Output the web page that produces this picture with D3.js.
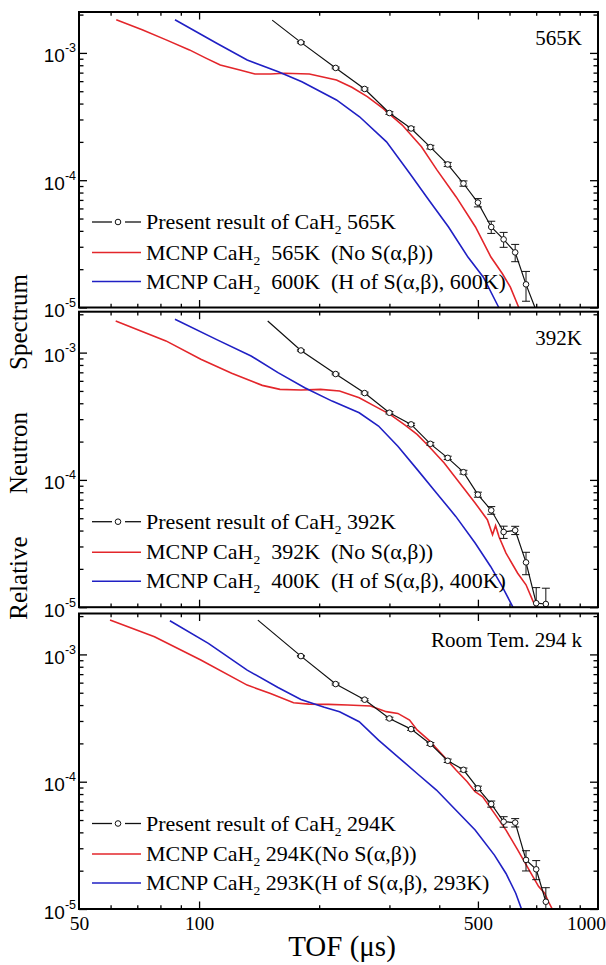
<!DOCTYPE html>
<html>
<head>
<meta charset="utf-8">
<script src="https://cdn.jsdelivr.net/npm/d3@7"></script>
<style>
    body { margin: 0; background: #fff; }
    text { white-space: pre; }
</style>
</head>
<body>
<div id="chart"></div>
<script>

// ---- data ----
const xMajorTicks = [100, 500];
const xMinorTicks = [60, 70, 80, 90, 200, 300, 400, 600, 700, 800, 900];
const xTickLabels = [50, 100, 500, 1000];
const yDecadeTicks = [1e-5, 1e-4, 1e-3];
const yMinorTicks = [2e-5, 3e-5, 4e-5, 5e-5, 6e-5, 7e-5, 8e-5, 9e-5,
                     2e-4, 3e-4, 4e-4, 5e-4, 6e-4, 7e-4, 8e-4, 9e-4, 2e-3];

const panelLabels = ["565K", "392K", "Room Tem. 294 k"];

// experimental points (TOF in microseconds)
const expTof1 = [180, 220, 260, 300, 340, 380, 420, 460, 500, 540, 580, 620, 660];
const expVal1 = [1.21e-3, 7.62e-4, 5.21e-4, 3.37e-4, 2.55e-4, 1.82e-4, 1.33e-4, 9.42e-5, 6.67e-5, 4.29e-5, 3.43e-5, 2.71e-5, 1.52e-5];
const expErr1 = [1.5e-5, 1.2e-5, 1.0e-5, 8e-6, 7e-6, 6e-6, 5e-6, 4.5e-6, 5e-6, 4.7e-6, 4.6e-6, 4.2e-6, 4e-6];
const expLead1 = [152.5, 1.81e-3];
const expTail1 = [695, 1.0e-5];

const expTof2 = [180, 220, 260, 300, 340, 380, 420, 460, 500, 540, 580, 620, 660, 700, 740];
const expVal2 = [1.04e-3, 6.79e-4, 4.81e-4, 3.37e-4, 2.73e-4, 1.92e-4, 1.49e-4, 1.15e-4, 7.66e-5, 5.77e-5, 3.90e-5, 4.02e-5, 2.25e-5, 1.075e-5, 1.06e-5];
const expErr2 = [1.2e-5, 1.0e-5, 8e-6, 7e-6, 6e-6, 5e-6, 4.5e-6, 4e-6, 3.5e-6, 4e-6, 4.3e-6, 3e-6, 4.5e-6, 3.5e-6, 3.5e-6];
const expLead2 = [148.6, 1.77e-3];

const expTof3 = [180, 220, 260, 300, 340, 380, 420, 460, 500, 540, 580, 620, 660, 700, 740];
const expVal3 = [9.70e-4, 5.85e-4, 4.41e-4, 3.14e-4, 2.59e-4, 1.98e-4, 1.46e-4, 1.24e-4, 8.87e-5, 6.68e-5, 4.85e-5, 4.77e-5, 2.43e-5, 2.05e-5, 1.14e-5];
const expErr3 = [1.2e-5, 1.0e-5, 8e-6, 7e-6, 6e-6, 5e-6, 4.5e-6, 4e-6, 3.5e-6, 3.7e-6, 4.6e-6, 3.6e-6, 4.4e-6, 3.5e-6, 3.3e-6];
const expLead3 = [140.4, 1.86e-3];

// MCNP, no S(a,b)
const redTof1 = [62, 72, 82.7, 94.6, 104, 113, 126.5, 138, 151, 163.5, 189, 221, 241.5, 264, 289, 323, 361, 395, 441, 493, 539, 576, 603, 633];
const redVal1 = [1.82e-3, 1.52e-3, 1.266e-3, 1.056e-3, 9.1e-4, 8.04e-4, 7.35e-4, 6.83e-4, 6.83e-4, 6.92e-4, 6.83e-4, 6.13e-4, 5.37e-4, 4.53e-4, 3.67e-4, 2.71e-4, 1.83e-4, 1.2e-4, 7.39e-5, 4.29e-5, 2.49e-5, 1.84e-5, 1.445e-5, 1.0e-5];

const redTof2 = [61.8, 82.6, 101, 120.7, 144, 159.5, 180, 201.6, 225, 252, 275.5, 301, 329, 352, 376.5, 411.6, 450, 492, 528, 544, 553.6, 565, 588, 629, 660, 687.5, 699.6];
const redVal2 = [1.775e-3, 1.236e-3, 8.86e-4, 6.88e-4, 5.53e-4, 5.14e-4, 5.08e-4, 5.14e-4, 4.99e-4, 4.42e-4, 3.80e-4, 3.27e-4, 2.68e-4, 2.28e-4, 1.84e-4, 1.36e-4, 9.47e-5, 6.59e-5, 4.87e-5, 3.71e-5, 4.37e-5, 3.56e-5, 2.66e-5, 1.85e-5, 1.50e-5, 1.11e-5, 1.0e-5];

const redTof3 = [59.8, 77.3, 101, 132, 151, 172.5, 188.5, 211, 235.7, 269, 294.6, 315, 337, 352, 376.5, 411.6, 440, 470, 492, 514, 550, 588, 629, 657.5, 687.5, 710, 735, 751.5, 768];
const redVal3 = [1.86e-3, 1.376e-3, 9.03e-4, 5.74e-4, 4.94e-4, 4.17e-4, 4.07e-4, 4.05e-4, 4.0e-4, 3.93e-4, 3.55e-4, 3.44e-4, 3.05e-4, 2.55e-4, 2.12e-4, 1.57e-4, 1.24e-4, 1.0e-4, 8.34e-5, 7.62e-5, 5.64e-5, 4.17e-5, 2.91e-5, 2.28e-5, 1.79e-5, 1.50e-5, 1.33e-5, 1.14e-5, 1.0e-5];

// MCNP, H of S(a,b)
const blueTof1 = [87, 110.7, 132, 158, 181, 221, 252.5, 295, 337.5, 377, 422, 472, 516, 564];
const blueVal1 = [1.82e-3, 1.19e-3, 8.8e-4, 7.12e-4, 5.94e-4, 4.27e-4, 3.15e-4, 2.0e-4, 1.13e-4, 6.97e-5, 4.29e-5, 2.49e-5, 1.73e-5, 1.0e-5];

const blueTof2 = [87, 110.4, 135, 157.7, 184, 215.5, 252, 281.7, 315, 352, 393.6, 440, 492, 538, 575, 612];
const blueVal2 = [1.83e-3, 1.27e-3, 9.41e-4, 6.96e-4, 5.30e-4, 4.16e-4, 3.37e-4, 2.65e-4, 1.84e-4, 1.21e-4, 7.9e-5, 5.17e-5, 3.19e-5, 2.09e-5, 1.455e-5, 1.0e-5];

const blueTof3 = [84.5, 105.5, 132, 157.7, 180, 206, 225, 252, 281.7, 315, 352, 393.6, 440, 492, 550, 588, 622, 643];
const blueVal3 = [1.84e-3, 1.22e-3, 7.53e-4, 5.5e-4, 4.43e-4, 3.84e-4, 3.55e-4, 2.96e-4, 2.12e-4, 1.57e-4, 1.16e-4, 8.6e-5, 5.99e-5, 4.17e-5, 2.65e-5, 1.9e-5, 1.33e-5, 1.0e-5];

// legend text: [before subscript, subscript, after subscript]
const legendExp  = [["Present result of CaH", "2", " 565K"], ["Present result of CaH", "2", " 392K"], ["Present result of CaH", "2", " 294K"]];
const legendRed  = [["MCNP CaH", "2", "  565K  (No S(\u03b1,\u03b2))"], ["MCNP CaH", "2", "  392K  (No S(\u03b1,\u03b2))"], ["MCNP CaH", "2", " 294K(No S(\u03b1,\u03b2))"]];
const legendBlue = [["MCNP CaH", "2", "  600K  (H of S(\u03b1,\u03b2), 600K)"], ["MCNP CaH", "2", "  400K  (H of S(\u03b1,\u03b2), 400K)"], ["MCNP CaH", "2", " 293K(H of S(\u03b1,\u03b2), 293K)"]];

// ---- layout ----
const width = 606, height = 965;
const plotLeft = 79, plotRight = 598;
const panelTops = [12, 311.7, 613.5];
const panelH = 295.5;
const yTop = 2.096e-3;

const serif = "'Liberation Serif', 'Times New Roman', serif";
const sans = "'Liberation Sans', Arial, sans-serif";
const redColor = "#e3262b";
const blueColor = "#2020c4";

const panels = [
    {exp: d3.zip(expTof1, expVal1, expErr1), lead: expLead1, tail: expTail1, red: d3.zip(redTof1, redVal1), blue: d3.zip(blueTof1, blueVal1)},
    {exp: d3.zip(expTof2, expVal2, expErr2), lead: expLead2, tail: null, red: d3.zip(redTof2, redVal2), blue: d3.zip(blueTof2, blueVal2)},
    {exp: d3.zip(expTof3, expVal3, expErr3), lead: expLead3, tail: null, red: d3.zip(redTof3, redVal3), blue: d3.zip(blueTof3, blueVal3)}
];

const svg = d3.select("#chart").append("svg")
    .attr("width", width)
    .attr("height", height);

const x = d3.scaleLog().domain([50, 1000]).range([plotLeft, plotRight]);

function drawPanel(p, i) {
    const g = svg.append("g").attr("transform", "translate(0," + panelTops[i] + ")");
    const y = d3.scaleLog().domain([1e-5, yTop]).range([panelH, 0]);

    g.append("defs").append("clipPath")
        .attr("id", "clip" + i)
        .append("rect")
        .attr("x", plotLeft).attr("y", 0)
        .attr("width", plotRight - plotLeft).attr("height", panelH);

    // ticks, all pointing inward
    const addAxis = (axis, tr) => {
        const a = g.append("g").attr("transform", tr).call(axis);
        a.select(".domain").remove();
        a.selectAll("line").attr("stroke", "#000").attr("stroke-width", 1.3);
        return a;
    };
    const blank = () => "";
    addAxis(d3.axisBottom(x).tickValues(xMajorTicks).tickSize(-7.5).tickFormat(blank), "translate(0," + panelH + ")");
    addAxis(d3.axisBottom(x).tickValues(xMinorTicks).tickSize(-3.8).tickFormat(blank), "translate(0," + panelH + ")");
    addAxis(d3.axisTop(x).tickValues(xMajorTicks).tickSize(-7.5).tickFormat(blank), "translate(0,0)");
    addAxis(d3.axisTop(x).tickValues(xMinorTicks).tickSize(-3.8).tickFormat(blank), "translate(0,0)");
    addAxis(d3.axisRight(y).tickValues(yDecadeTicks).tickSize(-8).tickFormat(blank), "translate(" + plotRight + ",0)");
    addAxis(d3.axisRight(y).tickValues(yMinorTicks).tickSize(-4.5).tickFormat(blank), "translate(" + plotRight + ",0)");
    addAxis(d3.axisLeft(y).tickValues(yMinorTicks).tickSize(-4.5).tickFormat(blank), "translate(" + plotLeft + ",0)");

    const yAx = addAxis(d3.axisLeft(y).tickValues(yDecadeTicks).tickSize(-8).tickPadding(3).tickFormat(blank),
        "translate(" + plotLeft + ",0)");
    yAx.selectAll(".tick text")
        .attr("font-family", sans)
        .attr("font-size", 19)
        .attr("fill", "#000")
        .attr("dy", null)
        .each(function (d) {
            const t = d3.select(this);
            t.append("tspan").attr("dy", 9).text("10");
            t.append("tspan").attr("dy", -10).attr("font-size", 12.5).text(Math.round(Math.log10(d)));
        });

    if (i === 2) {
        const xAx = addAxis(d3.axisBottom(x).tickValues(xTickLabels).tickSize(0).tickPadding(7.5).tickFormat(d3.format("d")),
            "translate(0," + panelH + ")");
        xAx.selectAll("text")
            .attr("font-family", serif)
            .attr("font-size", 19.5)
            .attr("fill", "#000")
            .attr("dx", d => d === 1000 ? -12 : 0);
    }

    const plot = g.append("g").attr("clip-path", "url(#clip" + i + ")");
    const line = d3.line().x(d => x(d[0])).y(d => y(d[1]));

    plot.append("path").datum(p.red)
        .attr("d", line).attr("fill", "none")
        .attr("stroke", redColor).attr("stroke-width", 1.6);
    plot.append("path").datum(p.blue)
        .attr("d", line).attr("fill", "none")
        .attr("stroke", blueColor).attr("stroke-width", 1.6);

    let expLine = [p.lead].concat(p.exp.map(d => [d[0], d[1]]));
    if (p.tail) expLine.push(p.tail);
    plot.append("path").datum(expLine)
        .attr("d", line).attr("fill", "none")
        .attr("stroke", "#111").attr("stroke-width", 1.2);

    // error bars
    const eb = plot.selectAll(".err").data(p.exp).enter().append("g").attr("class", "err")
        .attr("stroke", "#111").attr("stroke-width", 1);
    eb.append("line")
        .attr("x1", d => x(d[0])).attr("x2", d => x(d[0]))
        .attr("y1", d => y(d[1] - d[2])).attr("y2", d => y(d[1] + d[2]));
    eb.append("line")
        .attr("x1", d => x(d[0]) - 4).attr("x2", d => x(d[0]) + 4)
        .attr("y1", d => y(d[1] + d[2])).attr("y2", d => y(d[1] + d[2]));
    eb.append("line")
        .attr("x1", d => x(d[0]) - 4).attr("x2", d => x(d[0]) + 4)
        .attr("y1", d => y(d[1] - d[2])).attr("y2", d => y(d[1] - d[2]));

    plot.selectAll(".pt").data(p.exp).enter().append("circle").attr("class", "pt")
        .attr("cx", d => x(d[0])).attr("cy", d => y(d[1]))
        .attr("r", 2.8)
        .attr("fill", "#fff").attr("stroke", "#111").attr("stroke-width", 1);

    // frame
    g.append("rect")
        .attr("x", plotLeft).attr("y", 0)
        .attr("width", plotRight - plotLeft).attr("height", panelH)
        .attr("fill", "none").attr("stroke", "#000").attr("stroke-width", 2);

    g.append("text")
        .attr("x", plotRight - 16).attr("y", 33)
        .attr("text-anchor", "end")
        .attr("font-family", serif).attr("font-size", 21)
        .text(panelLabels[i]);

    // legend
    const rows = [
        {txt: legendExp[i], color: "#111", marker: true},
        {txt: legendRed[i], color: redColor, marker: false},
        {txt: legendBlue[i], color: blueColor, marker: false}
    ];
    const rowY = [210, 240.5, 269.5];
    rows.forEach((r, k) => {
        const ly = rowY[k];
        if (r.marker) {
            g.append("line").attr("x1", 92).attr("x2", 112).attr("y1", ly).attr("y2", ly)
                .attr("stroke", r.color).attr("stroke-width", 1.3);
            g.append("line").attr("x1", 125).attr("x2", 141).attr("y1", ly).attr("y2", ly)
                .attr("stroke", r.color).attr("stroke-width", 1.3);
            g.append("circle").attr("cx", 118).attr("cy", ly).attr("r", 2.8)
                .attr("fill", "#fff").attr("stroke", "#111").attr("stroke-width", 1);
        } else {
            g.append("line").attr("x1", 92).attr("x2", 141).attr("y1", ly).attr("y2", ly)
                .attr("stroke", r.color).attr("stroke-width", 1.6);
        }
        const t = g.append("text")
            .attr("x", 146).attr("y", ly + 7)
            .attr("font-family", serif).attr("font-size", 22);
        t.append("tspan").text(r.txt[0]);
        t.append("tspan").attr("dy", 5).attr("font-size", 13.5).text(r.txt[1]);
        t.append("tspan").attr("dy", -5).text(r.txt[2]);
    });
}

panels.forEach(drawPanel);

// axis titles
const yTitle = [["Relative", 578], ["Neutron", 453], ["Spectrum", 322]];
yTitle.forEach(w => {
    svg.append("text")
        .attr("transform", "translate(27," + w[1] + ") rotate(-90)")
        .attr("text-anchor", "middle")
        .attr("font-family", serif).attr("font-size", 25)
        .text(w[0]);
});

svg.append("text")
    .attr("x", 342).attr("y", 956)
    .attr("text-anchor", "middle")
    .attr("font-family", serif).attr("font-size", 29)
    .text("TOF (\u03bcs)");

</script>
</body>
</html>
